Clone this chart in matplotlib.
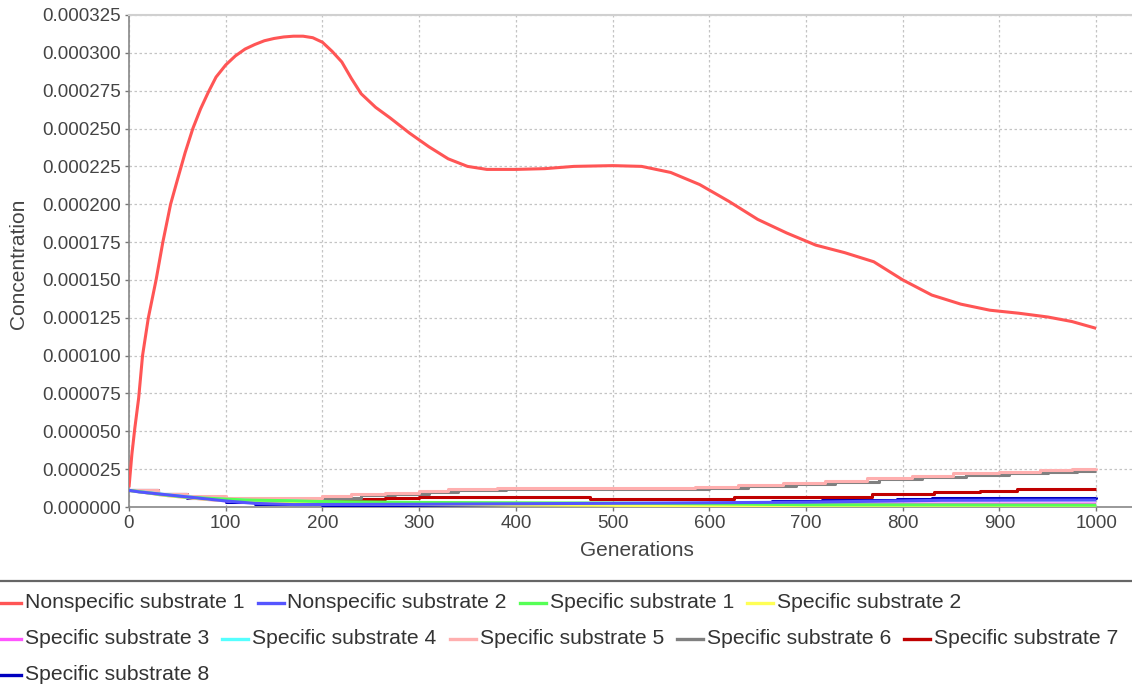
import numpy as np
import matplotlib
matplotlib.use('Agg')
import matplotlib.pyplot as plt
from matplotlib.lines import Line2D

plt.rcParams['font.family'] = ['Liberation Sans', 'DejaVu Sans']

# ── Data (generation, concentration) ───────────────────────────────────
gen_ns1 = [0, 3, 6, 10, 14, 20, 28, 35, 43, 50, 58, 66, 74, 82, 90, 100, 110,
           120, 130, 140, 150, 160, 170, 180, 190, 200, 210, 220, 230, 240,
           255, 270, 290, 310, 330, 350, 370, 400, 430, 460, 500, 530, 560,
           590, 620, 650, 680, 710, 740, 770, 800, 830, 860, 890, 920, 950,
           975, 1000]
val_ns1 = [13e-6, 35e-6, 52e-6, 72e-6, 100e-6, 125e-6, 150e-6, 175e-6, 200e-6,
           216e-6, 234e-6, 250e-6, 263e-6, 274e-6, 284e-6, 292e-6, 298e-6,
           302.5e-6, 305.5e-6, 308e-6, 309.5e-6, 310.5e-6, 311e-6, 311e-6,
           310e-6, 307e-6, 301e-6, 294e-6, 283e-6, 273e-6, 264e-6, 257e-6,
           247e-6, 238e-6, 230e-6, 225e-6, 223e-6, 223e-6, 223.5e-6, 225e-6,
           225.5e-6, 225e-6, 221e-6, 213e-6, 202e-6, 190e-6, 181e-6, 173e-6,
           168e-6, 162e-6, 150e-6, 140e-6, 134e-6, 130e-6, 128e-6, 125.5e-6,
           122.5e-6, 118e-6]

gen_ns2 = [0, 10, 25, 40, 55, 70, 85, 100, 115, 130, 150, 170, 300, 480, 700, 840, 1000]
val_ns2 = [11e-6, 10e-6, 9e-6, 8e-6, 7e-6, 6e-6, 5e-6, 4e-6, 3.2e-6, 2.4e-6, 2e-6,
           1.6e-6, 1.8e-6, 2.4e-6, 3.2e-6, 4.4e-6, 4.6e-6]

gen_s1 = [0, 30, 60, 90, 120, 160, 200, 300, 485, 620, 700, 1000]
val_s1 = [11e-6, 8.5e-6, 6.5e-6, 5.5e-6, 4.6e-6, 4.2e-6, 3.6e-6, 3.0e-6, 2.6e-6,
          2.0e-6, 1.5e-6, 1.2e-6]

gen_s2 = [0, 40, 80, 120, 200, 400, 700, 1000]
val_s2 = [11e-6, 7.5e-6, 5e-6, 3.5e-6, 2e-6, 1.2e-6, 0.8e-6, 0.6e-6]

gen_s3 = [0, 40, 80, 120, 200, 400, 620, 1000]
val_s3 = [11e-6, 7.5e-6, 5e-6, 3.2e-6, 2.2e-6, 1.6e-6, 2.0e-6, 2.0e-6]

gen_s4 = [0, 40, 80, 130, 170, 200, 300, 500, 1000]
val_s4 = [11e-6, 8e-6, 5.5e-6, 4.2e-6, 4.0e-6, 3.2e-6, 2.2e-6, 1.6e-6, 1.0e-6]

gen_s5 = [0, 30, 60, 100, 150, 200, 230, 265, 300, 330, 380, 585, 630, 676,
          720, 763, 810, 852, 900, 942, 975, 1000]
val_s5 = [11e-6, 8.5e-6, 7e-6, 6e-6, 6.2e-6, 7e-6, 8.3e-6, 9.5e-6, 10.8e-6,
          11.8e-6, 12.6e-6, 13.2e-6, 14.4e-6, 15.8e-6, 17.2e-6, 19.2e-6, 20.6e-6,
          22.2e-6, 23.2e-6, 24.2e-6, 25.2e-6, 25.6e-6]

gen_s6 = [0, 30, 60, 100, 150, 200, 240, 275, 310, 340, 390, 600, 640, 690,
          730, 775, 820, 865, 910, 950, 980, 1000]
val_s6 = [11e-6, 8.5e-6, 6.8e-6, 5.6e-6, 5.6e-6, 6.0e-6, 7.6e-6, 8.8e-6,
          10.2e-6, 11.2e-6, 12.2e-6, 12.6e-6, 13.8e-6, 15.0e-6, 16.6e-6,
          18.4e-6, 19.8e-6, 21.2e-6, 22.4e-6, 23.2e-6, 23.8e-6, 24.0e-6]

gen_s7 = [0, 30, 60, 100, 160, 230, 265, 300, 477, 625, 768, 832, 880, 918, 975, 1000]
val_s7 = [11e-6, 8.5e-6, 6.5e-6, 5e-6, 4.5e-6, 5.3e-6, 6.2e-6, 6.9e-6, 5.3e-6,
          6.8e-6, 8.4e-6, 9.7e-6, 10.8e-6, 11.7e-6, 12.0e-6, 12.0e-6]

gen_s8 = [0, 30, 60, 100, 130, 200, 285, 500, 665, 717, 794, 830, 1000]
val_s8 = [11e-6, 8.5e-6, 6e-6, 3.6e-6, 1.8e-6, 1.4e-6, 1.4e-6, 2.2e-6, 4.2e-6,
          4.6e-6, 5.3e-6, 6.2e-6, 6.4e-6]

labels = ['Nonspecific substrate 1', 'Nonspecific substrate 2',
          'Specific substrate 1', 'Specific substrate 2',
          'Specific substrate 3', 'Specific substrate 4',
          'Specific substrate 5', 'Specific substrate 6',
          'Specific substrate 7', 'Specific substrate 8']
colors = ['#FF5555', '#5555FF', '#55FF55', '#FFFF55', '#FF55FF',
          '#55FFFF', '#FFAFAF', '#808080', '#C00000', '#0000C0']

series = [(gen_ns1, val_ns1), (gen_ns2, val_ns2), (gen_s1, val_s1),
          (gen_s2, val_s2), (gen_s3, val_s3), (gen_s4, val_s4),
          (gen_s5, val_s5), (gen_s6, val_s6), (gen_s7, val_s7),
          (gen_s8, val_s8)]
step_series = {6, 7, 8, 9}

W, H = 1132, 688
fig = plt.figure(figsize=(W / 100, H / 100), dpi=100)
ax = fig.add_axes([129 / W, 1 - 507 / H, 1003 / W, (507 - 15) / H])

# series 0 on top, like the original renderer
for i, ((g, v), c) in enumerate(zip(series, colors)):
    ax.plot(g, v, color=c, lw=2.2, zorder=20 - i,
            drawstyle='steps-post' if i in step_series else 'default',
            solid_capstyle='butt')

ax.set_xlim(0, 1037)
ax.set_ylim(0, 0.000325)
ax.set_xticks(np.arange(0, 1001, 100))
ax.set_yticks(np.arange(0, 0.000326, 0.000025))
ax.yaxis.set_major_formatter(matplotlib.ticker.FormatStrFormatter('%.6f'))
ax.grid(True, color='#c4c4c4', linestyle=(0, (2, 2)), lw=0.9)
ax.set_axisbelow(True)
ax.tick_params(labelsize=13.5, labelcolor='#444444', color='#777777',
               length=3, width=1, pad=3)
for s in ['left', 'bottom']:
    ax.spines[s].set_color('#888888')
    ax.spines[s].set_linewidth(1.2)
ax.spines['top'].set_color('#d0d0d0')
ax.spines['top'].set_linewidth(1.5)
ax.spines['right'].set_visible(False)

fig.text(637 / W, 1 - 551 / H, 'Generations', ha='center', va='center',
         fontsize=15, color='#444444')
fig.text(19 / W, 1 - 264 / H, 'Concentration', ha='center', va='center',
         rotation=90, fontsize=15, color='#444444')

# legend separator
fig.add_artist(Line2D([0, 1], [1 - 581 / H] * 2, color='#666666', lw=1.6,
                      transform=fig.transFigure))

# flow-layout legend below the plot
renderer = fig.canvas.get_renderer()
rows = [[0, 1, 2, 3], [4, 5, 6, 7, 8], [9]]
row_y = [603, 639, 675]
for row, ypx in zip(rows, row_y):
    xpx = -5
    for i in row:
        fig.add_artist(Line2D([max(xpx, 0) / W, (xpx + 26) / W], [1 - ypx / H] * 2,
                              color=colors[i], lw=2.4, transform=fig.transFigure))
        t = fig.text((xpx + 30) / W, 1 - ypx / H, labels[i], ha='left',
                     va='center', fontsize=15.2, color='#333333')
        w = t.get_window_extent(renderer).width
        xpx += 30 + w + 13

fig.savefig('out.png', dpi=100)
